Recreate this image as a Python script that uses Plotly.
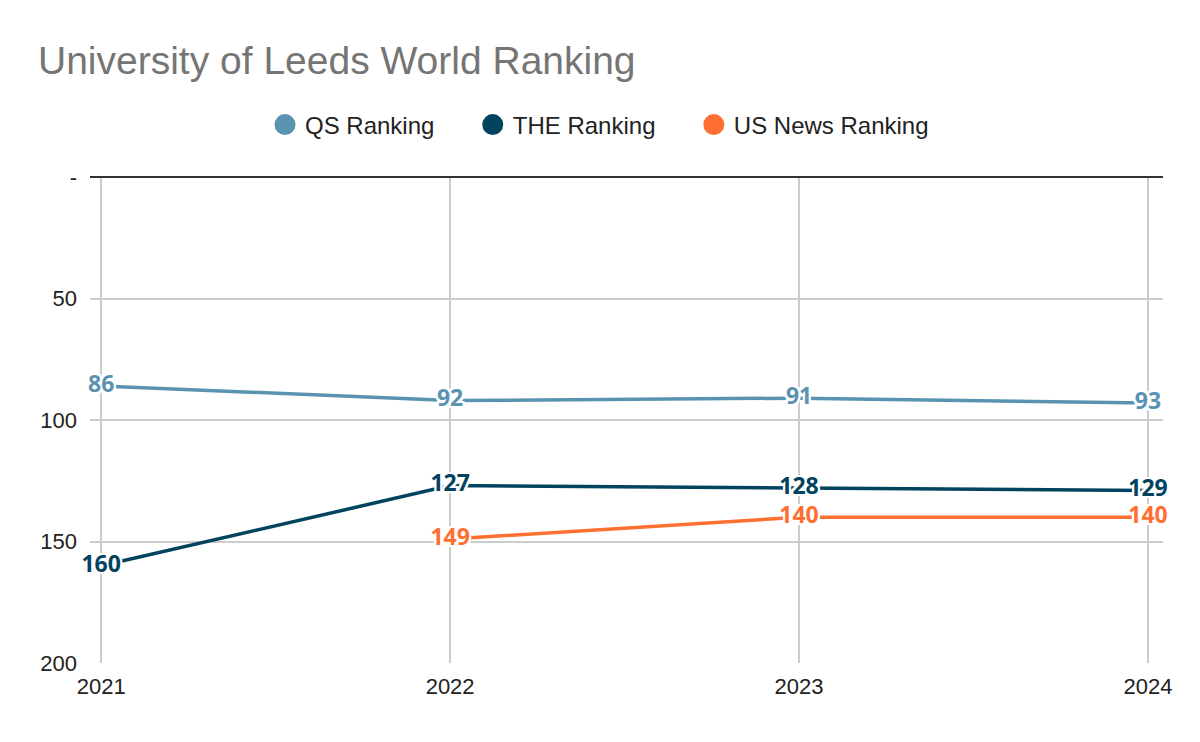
import plotly.graph_objects as go

years = [2021, 2022, 2023, 2024]
qs_rank = [86, 92, 91, 93]
the_rank = [160, 127, 128, 129]
usnews_rank = [None, 149, 140, 140]

series_names = ["QS Ranking", "THE Ranking", "US News Ranking"]
series_colors = ["#5993b1", "#02435f", "#ff6f31"]
series_values = [qs_rank, the_rank, usnews_rank]
legend_pad = ["\u00a0" * 5, "\u00a0" * 5, ""]

y_tickvals = [0, 50, 100, 150, 200]
y_ticktext = ["-", "50", "100", "150", "200"]

halo = ("2px 0 0 #fff, -2px 0 0 #fff, 0 2px 0 #fff, 0 -2px 0 #fff, "
        "2px 2px 0 #fff, -2px -2px 0 #fff, 2px -2px 0 #fff, -2px 2px 0 #fff")

fig = go.Figure()
for name, color, vals in zip(series_names, series_colors, series_values):
    fig.add_trace(go.Scatter(
        x=years, y=vals, mode="lines+text", name=name,
        line=dict(color=color, width=3.5),
        text=[("" if v is None else str(v)) for v in vals],
        textposition="middle center",
        textfont=dict(family="Open Sans", size=23, color=color, weight=700, shadow=halo),
        showlegend=False, connectgaps=False, cliponaxis=False, hoverinfo="x+y+name",
    ))
for name, color, pad in zip(series_names, series_colors, legend_pad):
    fig.add_trace(go.Scatter(
        x=[None], y=[None], mode="markers", name=name + pad,
        marker=dict(color=color, size=24, symbol="circle", line=dict(color=color, width=5)),
        showlegend=True, hoverinfo="skip",
    ))

fig.update_layout(
    width=1200, height=742,
    margin=dict(l=90, r=37, t=177, b=79),
    paper_bgcolor="#ffffff", plot_bgcolor="#ffffff",
    title=dict(text="University of Leeds World Ranking",
               font=dict(family="Liberation Sans, Arial", size=39, color="#757575"),
               x=38/1200, xanchor="left", xref="container",
               y=1 - 60/742, yanchor="middle", yref="container"),
    legend=dict(orientation="h", x=(265 - 90)/1073, xanchor="left", y=1.107, yanchor="middle",
                font=dict(family="Liberation Sans, Arial", size=24, color="#222222"),
                itemsizing="trace", bgcolor="rgba(0,0,0,0)"),
    font=dict(family="Liberation Sans, Arial", color="#222222"),
)
fig.update_xaxes(
    range=[2020.968, 2024.043], tickvals=years, ticktext=[str(y) for y in years],
    showgrid=True, gridcolor="#cccccc", gridwidth=2, zeroline=False, showline=False,
    tickfont=dict(size=22, color="#222222"), ticks="", ticklabelstandoff=8,
)
fig.update_yaxes(
    range=[200, 0], tickvals=y_tickvals, ticktext=y_ticktext,
    showgrid=True, gridcolor="#cccccc", gridwidth=2,
    zeroline=True, zerolinecolor="#333333", zerolinewidth=2, showline=False,
    tickfont=dict(size=22, color="#222222"), ticks="", ticklabelstandoff=12,
)

fig.write_html("out.html")
